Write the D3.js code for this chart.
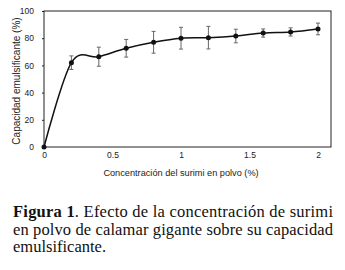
<!DOCTYPE html>
<html lang="es">
<head>
<meta charset="UTF-8">
<title>Capacidad emulsificante</title>
<script src="https://d3js.org/d3.v7.min.js"></script>
<style>
  body { margin: 0; background: #fff; }
  svg { display: block; }
  .cap, .cap tspan { font-family: "Liberation Serif", "Times New Roman", Times, serif; font-size: 16.5px; fill: #111; }
</style>
</head>
<body>
<svg></svg>
<script>
    const width = 345, height = 270;

    // datos
    const conc = [0, 0.2, 0.4, 0.6, 0.8, 1.0, 1.2, 1.4, 1.6, 1.8, 2.0];
    const capacidad = [0, 62, 66.4, 72.6, 77, 80, 80.4, 81.6, 83.8, 84.6, 86.8];
    const errores = [0, 5, 7, 6.5, 8, 8, 8.3, 5, 3, 3, 4.3];
    const xTicks = [0, 0.5, 1, 1.5, 2];
    const yTicks = [0, 20, 40, 60, 80, 100];

    const svg = d3.select("svg").attr("width", width).attr("height", height);

    const plot = {left: 44, right: 331, top: 11, bottom: 147};

    const x = d3.scaleLinear().domain([0, 2]).range([plot.left, 318]);
    const y = d3.scaleLinear().domain([0, 100]).range([plot.bottom, plot.top]);

    const font = "'Liberation Sans', Arial, sans-serif";

    // marco del área de trazado
    svg.append("rect")
        .attr("x", plot.left).attr("y", plot.top)
        .attr("width", plot.right - plot.left)
        .attr("height", plot.bottom - plot.top)
        .attr("fill", "none").attr("stroke", "#222").attr("stroke-width", 1);

    let xAxis = d3.axisBottom(x).tickValues(xTicks).tickSize(0).tickPadding(5)
        .tickFormat(d3.format("~g"));
    let yAxis = d3.axisLeft(y).tickValues(yTicks).tickSize(2).tickPadding(8);

    const gx = svg.append("g").attr("transform", `translate(0,${plot.bottom})`).call(xAxis);
    const gy = svg.append("g").attr("transform", `translate(${plot.left},0)`).call(yAxis);
    [gx, gy].forEach(g => {
        g.select(".domain").remove();
        g.selectAll("line").attr("stroke", "#222");
        g.selectAll("text").attr("font-family", font).attr("font-size", 8.5).attr("fill", "#222");
    });

    // barras de error
    const pts = conc.map((c, i) => ({c: c, v: capacidad[i], e: errores[i]}));
    const eb = svg.append("g").attr("stroke", "#666").attr("stroke-width", 1);
    pts.filter(d => d.e > 0).forEach(d => {
        const cx = x(d.c);
        eb.append("line").attr("x1", cx).attr("x2", cx)
            .attr("y1", y(d.v - d.e)).attr("y2", y(d.v + d.e));
        eb.append("line").attr("x1", cx - 2).attr("x2", cx + 2)
            .attr("y1", y(d.v - d.e)).attr("y2", y(d.v - d.e));
        eb.append("line").attr("x1", cx - 2).attr("x2", cx + 2)
            .attr("y1", y(d.v + d.e)).attr("y2", y(d.v + d.e));
    });

    // línea suavizada
    const line = d3.line().x(d => x(d.c)).y(d => y(d.v)).curve(d3.curveCatmullRom.alpha(0));
    svg.append("path").datum(pts)
        .attr("d", line)
        .attr("fill", "none").attr("stroke", "#111").attr("stroke-width", 1.5);

    svg.selectAll("circle.pt").data(pts).join("circle")
        .attr("class", "pt")
        .attr("cx", d => x(d.c)).attr("cy", d => y(d.v))
        .attr("r", 2.5).attr("fill", "#111");

    // títulos de ejes
    svg.append("text")
        .attr("x", 181).attr("y", 176)
        .attr("text-anchor", "middle")
        .attr("font-family", font).attr("font-size", 9.2).attr("fill", "#222")
        .text("Concentración del surimi en polvo (%)");

    svg.append("text")
        .attr("transform", "translate(20,81) rotate(-90)")
        .attr("text-anchor", "middle")
        .attr("font-family", font).attr("font-size", 10).attr("fill", "#222")
        .text("Capacidad emulsificante (%)");

    // pie de figura
    const l1 = svg.append("text").attr("class", "cap").attr("x", 13).attr("y", 217)
        .attr("textLength", 320).attr("lengthAdjust", "spacing");
    l1.append("tspan").attr("font-weight", "bold").text("Figura 1");
    l1.append("tspan").text(". Efecto de la concentración de surimi");
    svg.append("text").attr("class", "cap").attr("x", 13).attr("y", 234.5)
        .attr("textLength", 320).attr("lengthAdjust", "spacing")
        .text("en polvo de calamar gigante sobre su capacidad");
    svg.append("text").attr("class", "cap").attr("x", 13).attr("y", 252)
        .text("emulsificante.");
</script>
</body>
</html>
